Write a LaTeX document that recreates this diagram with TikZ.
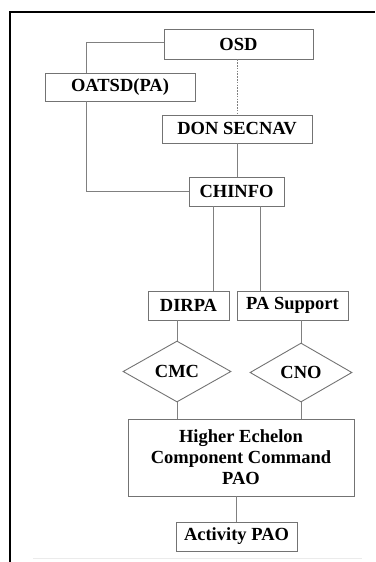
\documentclass[tikz,border=0pt]{standalone}
\usepackage{fontspec}
\setmainfont{Liberation Serif}
\usetikzlibrary{shapes.geometric,calc}
\begin{document}
\begin{tikzpicture}[x=1pt,y=-1pt,
  box/.style={draw=black!55, line width=0.9pt, inner sep=0pt, align=center,
    font=\fontsize{18.5}{21}\selectfont\bfseries},
  dia/.style={diamond, draw=black!55, line width=0.9pt, inner sep=0pt,
    font=\fontsize{18.5}{21}\selectfont\bfseries},
  conn/.style={draw=black!50, line width=0.9pt},
  dotconn/.style={draw=black!50, line width=0.8pt, dash pattern=on 1.6pt off 1.2pt}]
\useasboundingbox (0,0) rectangle (375,562);
% frame
\draw[line width=2.3pt] (10,562) -- (10,12) -- (374.5,12);
\draw[black!8, line width=1pt] (33,558) -- (362,558);
% nodes
\node[box, minimum width=149pt, minimum height=30pt] (osd) at (238.5,44) {OSD};
\node[box, minimum width=150pt, minimum height=28pt] (oatsd) at (120,87) {OATSD(PA)};
\node[box, minimum width=150pt, minimum height=28pt] (don) at (237,129) {DON SECNAV};
\node[box, minimum width=95pt, minimum height=29pt] (chinfo) at (236.5,191.5) {CHINFO};
\node[box, minimum width=81pt, minimum height=29pt] (dirpa) at (188.5,305.5) {DIRPA};
\node[box, minimum width=111pt, minimum height=29pt] (pas) at (292.5,305.5) {PA Support};
\node[dia, minimum width=108pt, minimum height=61pt] (cmc) at (177,371.5) {CMC};
\node[dia, minimum width=102pt, minimum height=59pt] (cno) at (301,372.5) {CNO};
\node[box, minimum width=226pt, minimum height=77pt] (heccc) at (241,457.5) {Higher Echelon\\Component Command\\PAO};
\node[box, minimum width=121pt, minimum height=29pt] (act) at (236.5,536.5) {Activity PAO};
% helper coordinates
\coordinate (k1) at (86,42);
\coordinate (k2) at (237,0);
\coordinate (c1) at (213,0);
\coordinate (c2) at (260,0);
% connectors
\draw[conn] (osd.west |- k1) -| (oatsd.north -| k1);
\draw[conn] (oatsd.south -| k1) |- (chinfo.west);
\draw[dotconn] (osd.south -| k2) -- (don.north -| k2);
\draw[conn] (don.south -| k2) -- (chinfo.north -| k2);
\draw[conn] (chinfo.south -| c1) -- (dirpa.north -| c1);
\draw[conn] (chinfo.south -| c2) -- (pas.north -| c2);
\draw[conn] (cmc.north |- dirpa.south) -- (cmc.north);
\draw[conn] (cno.north |- pas.south) -- (cno.north);
\draw[conn] (cmc.south) -- (cmc.south |- heccc.north);
\draw[conn] (cno.south) -- (cno.south |- heccc.north);
\draw[conn] (act.north |- heccc.south) -- (act.north);
\end{tikzpicture}
\end{document}
